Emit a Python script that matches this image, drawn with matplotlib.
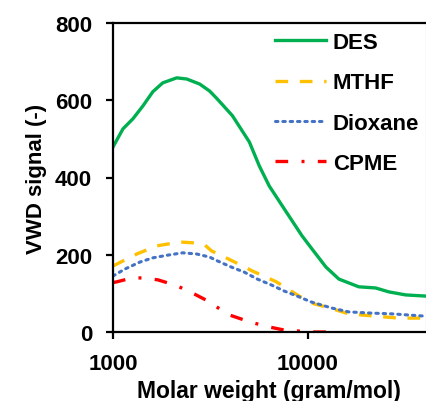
import numpy as np
import matplotlib
matplotlib.use('Agg')
import matplotlib.pyplot as plt

plt.rcParams['font.family'] = ['Liberation Sans', 'DejaVu Sans']
plt.rcParams['font.weight'] = 'bold'

# datos
mw_des = [1000, 1125, 1265, 1422, 1600, 1799, 2122, 2387, 2781, 3126, 3400, 4094, 5000,
          5623, 6324, 7727, 9311, 10476, 12355, 14392, 18197, 22216, 25883, 31623, 40000]
vwd_des = [479, 526, 552, 585, 622, 645, 658, 655, 642, 624, 605, 560, 492,
           430, 378, 311, 249, 215, 168, 137, 117, 114, 104, 96, 93]

mw_mthf = [1000, 1325, 1676, 2197, 2558, 2945, 3199, 4094, 5180, 6872, 8995, 10730,
           12355, 16180, 22216, 29040, 40000]
vwd_mthf = [171, 202, 223, 233, 231, 226, 210, 184, 158, 130, 93, 73,
            65, 47, 41, 36, 36]

mw_diox = [1000, 1151, 1373, 1600, 1909, 2276, 2683, 3126, 3434, 4046, 4710, 5495, 6471,
           7551, 8995, 10350, 13240, 16180, 20940, 26850, 32740, 40000]
vwd_diox = [145, 163, 181, 192, 199, 205, 202, 194, 184, 168, 155, 137, 122,
            106, 91, 78, 62, 52, 49, 47, 44, 41]

mw_cpme = [1000, 1048, 1250, 1422, 1698, 2000, 2250, 2620, 3126, 3395, 3955, 4710, 5300,
           6324, 7551, 8690, 10100, 14070]
vwd_cpme = [128, 130, 140, 140, 135, 124, 114, 98, 78, 65, 44, 31, 23,
            13, 5, 3, 0, 0]

fig = plt.figure(figsize=(4.26, 4.02), dpi=100)
ax = fig.add_axes([113/426, 1-333/402, 312.5/426, 309/402])

ax.plot(mw_des, vwd_des, color='#00B050', lw=2.4, label='DES')
ax.plot(mw_mthf, vwd_mthf, color='#FFC000', lw=2.4, ls=(0, (3.8, 3.5)), label='MTHF')
ax.plot(mw_diox, vwd_diox, color='#4472C4', lw=2.2, ls=(0, (0.8, 1.6)),
        dash_capstyle='round', label='Dioxane')
ax.plot(mw_cpme, vwd_cpme, color='#FF0000', lw=2.4, ls=(0, (3.8, 4, 0.9, 4)), label='CPME')

ax.set_xscale('log')
ax.set_xlim(1000, 40000)
ax.set_ylim(0, 800)
ax.set_xticks([1000, 10000])
ax.set_xticklabels(['1000', '10000'])
ax.xaxis.set_minor_locator(matplotlib.ticker.NullLocator())
ax.set_yticks([0, 200, 400, 600, 800])

for s in ['left', 'bottom', 'top']:
    ax.spines[s].set_linewidth(1.6)
ax.spines['right'].set_linewidth(0.8)
ax.spines['right'].set_color('#999999')
ax.tick_params(axis='both', labelsize=16, width=1.6, length=5, pad=10)

ax.set_xlabel('Molar weight (gram/mol)', fontsize=16.5, fontweight='bold', labelpad=4)
ax.set_ylabel('VWD signal (-)', fontsize=16, fontweight='bold', labelpad=6)

ax.legend(loc='upper left', bbox_to_anchor=(275/426, 1-33/402), bbox_transform=fig.transFigure,
          frameon=False, fontsize=16, handlelength=2.3, handletextpad=0.3,
          labelspacing=0.87, borderpad=0, borderaxespad=0)

plt.savefig('out.png', dpi=100)
